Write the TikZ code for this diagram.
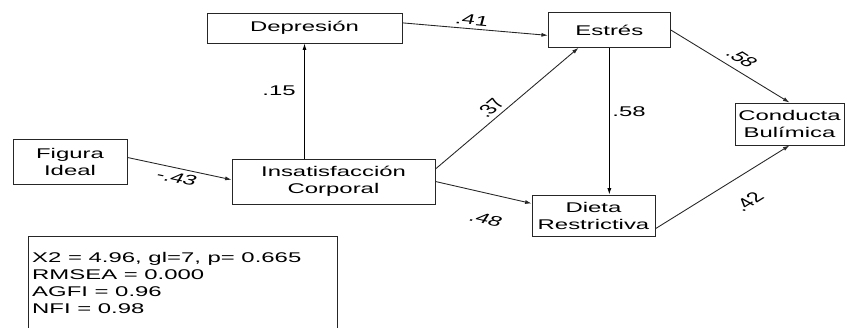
\documentclass[tikz,border=0pt]{standalone}
\usepackage{fontspec}
\setmainfont{Liberation Sans}
\newfontfamily\widesans[FakeStretch=1.7]{Liberation Sans}
\usetikzlibrary{arrows.meta}

\tikzset{
    var/.style={draw=black!85, line width=0.8pt, align=center, inner sep=0pt,
        font=\widesans\fontsize{12}{14.5}\selectfont},
    coef/.style={inner sep=0pt, xscale=1.7, font=\fontsize{12}{14}\selectfont},
    link/.style={->, line width=0.75pt, draw=black!85},
    >={Latex[length=5.5pt,width=3.5pt]}
}

\begin{document}
\begin{tikzpicture}
    \useasboundingbox (0,0) rectangle (25.41,-9.81);

    \node[var, minimum width=5.85cm, minimum height=0.9cm] (Dep) at (9.135,-0.84) {Depresión};
    \node[var, minimum width=3.66cm, minimum height=1.04cm] (Est) at (18.28,-0.9) {Estrés};
    \node[var, minimum width=3.42cm, minimum height=1.35cm] (Fig) at (2.1,-4.845) {Figura\\Ideal};
    \node[var, minimum width=6.09cm, minimum height=1.35cm] (Ins) at (10.005,-5.445) {Insatisfacción\\Corporal};
    \node[var, minimum width=3.69cm, minimum height=1.23cm] (Die) at (17.805,-6.465) {Dieta\\Restrictiva};
    \node[var, minimum width=3.27cm, minimum height=1.26cm] (Con) at (23.685,-3.72) {Conducta\\Bulímica};

    \draw[link] (Fig.4) -- (Ins.179);
    \draw[link, draw=black] (Ins.north -| Dep.south) -- (Dep.south);
    \draw[link] (Dep.3) -- (Est.185);
    \draw[link] (Ins.7) -- (Est.210);
    \draw[link] (Ins.east) -- (Die.169);
    \draw[link, draw=black] (Est.south) -- (Est.south |- Die.north);
    \draw[link] (Est.east) -- (Con.north);
    \draw[link] (Die.348) -- (Con.south);

    \node[coef, rotate=-19] (c43) at (5.31,-5.34) {-.43};
    \node[coef] (c15) at (8.37,-2.73) {.15};
    \node[coef, rotate=-9] (c41) at (14.16,-0.6) {.41};
    \node[coef, rotate=55] (c37) at (14.7,-3.24) {.37};
    \node[coef, rotate=-21] (c48) at (14.58,-6.57) {.48};
    \node[coef] (c58a) at (18.87,-3.36) {.58};
    \node[coef, rotate=-47] (c58b) at (22.26,-1.74) {.58};
    \node[coef, rotate=47] (c42) at (22.44,-6.06) {.42};

    % fit indices
    \draw[draw=black!85, line width=0.8pt] (0.84,-7.08) rectangle (10.11,-10.1);
    \node[anchor=north west, inner sep=0pt, align=left, font=\widesans\fontsize{12}{14.45}\selectfont] (fit) at (0.96,-7.56)
        {X2 = 4.96, gl=7, p= 0.665\\RMSEA = 0.000\\AGFI = 0.96\\NFI = 0.98};
\end{tikzpicture}
\end{document}
